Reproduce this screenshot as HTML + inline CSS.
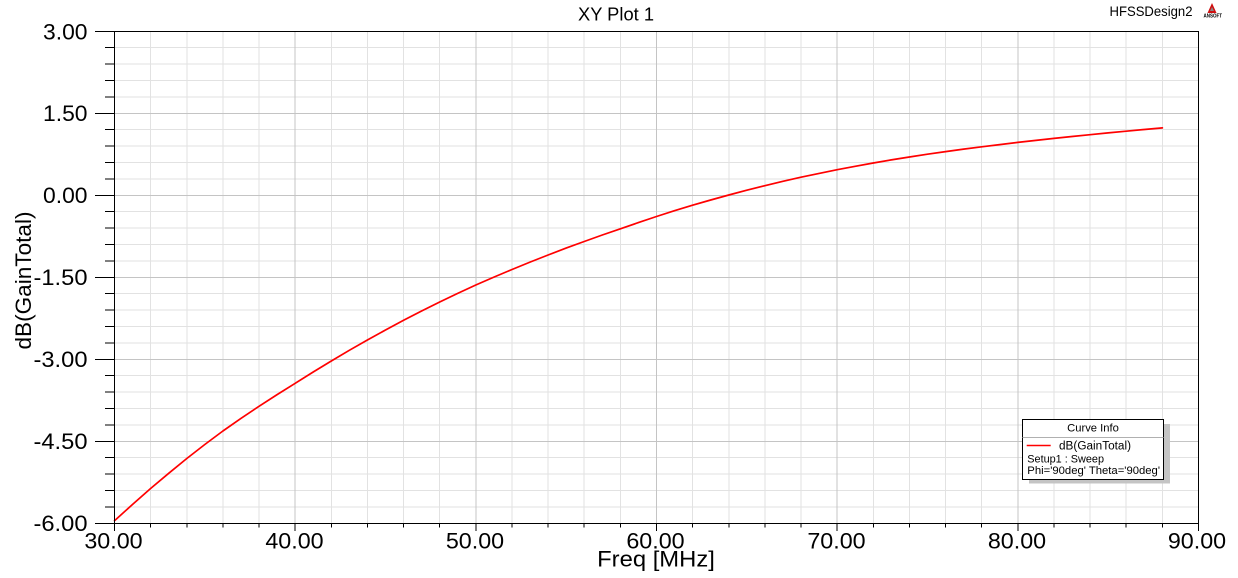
<!DOCTYPE html>
<html><head><meta charset="utf-8"><style>
html,body{margin:0;padding:0;background:#fff;}
svg{display:block;}
text{font-family:"Liberation Sans",Arial,sans-serif;fill:#000;}
</style></head><body>
<svg width="1238" height="578" viewBox="0 0 1238 578" xmlns="http://www.w3.org/2000/svg">
<rect width="1238" height="578" fill="#fff"/>
<!-- minor grid -->
<g stroke="#e2e2e2" stroke-width="1" shape-rendering="crispEdges">
<path d="M150.6 31.3V523.3M186.8 31.3V523.3M222.9 31.3V523.3M259 31.3V523.3M331.3 31.3V523.3M367.4 31.3V523.3M403.6 31.3V523.3M439.7 31.3V523.3M512 31.3V523.3M548.1 31.3V523.3M584.2 31.3V523.3M620.4 31.3V523.3M692.6 31.3V523.3M728.8 31.3V523.3M764.9 31.3V523.3M801 31.3V523.3M873.3 31.3V523.3M909.4 31.3V523.3M945.6 31.3V523.3M981.7 31.3V523.3M1054 31.3V523.3M1090.1 31.3V523.3M1126.2 31.3V523.3M1162.4 31.3V523.3"/>
<path d="M114.5 47.7H1198.5M114.5 64.1H1198.5M114.5 80.5H1198.5M114.5 96.9H1198.5M114.5 129.7H1198.5M114.5 146.1H1198.5M114.5 162.5H1198.5M114.5 178.9H1198.5M114.5 211.7H1198.5M114.5 228.1H1198.5M114.5 244.5H1198.5M114.5 260.9H1198.5M114.5 293.7H1198.5M114.5 310.1H1198.5M114.5 326.5H1198.5M114.5 342.9H1198.5M114.5 375.7H1198.5M114.5 392.1H1198.5M114.5 408.5H1198.5M114.5 424.9H1198.5M114.5 457.7H1198.5M114.5 474.1H1198.5M114.5 490.5H1198.5M114.5 506.9H1198.5"/>
</g>
<!-- major grid -->
<g stroke="#c4c4c4" stroke-width="1" shape-rendering="crispEdges">
<path d="M295.2 31.3V523.3M475.8 31.3V523.3M656.5 31.3V523.3M837.2 31.3V523.3M1017.8 31.3V523.3"/>
<path d="M114.5 113.3H1198.5M114.5 195.3H1198.5M114.5 277.3H1198.5M114.5 359.3H1198.5M114.5 441.3H1198.5"/>
</g>
<!-- curve -->
<polyline fill="none" stroke="#ff0000" stroke-width="1.7" stroke-linejoin="round" stroke-linecap="round"
points="114.5,520.7 132.6,504.4 150.6,488.5 168.7,473.3 186.8,458.5 204.8,444.5 222.9,431 240.9,418.4 259,406.3 277.1,394.6 295.2,383.3 313.2,372 331.3,361 349.3,350.3 367.4,340 385.5,330 403.6,320.3 421.6,311 439.7,302 457.7,293.4 475.8,285 493.9,277.1 512,269.5 530,262.1 548.1,255 566.1,248.1 584.2,241.5 602.3,235 620.4,228.8 638.4,222.6 656.5,216.5 674.5,210.7 692.6,205.2 710.7,200 728.8,195 746.8,190.2 764.9,185.7 782.9,181.3 801,177.2 819.1,173.4 837.2,169.7 855.2,166.3 873.3,163 891.3,159.9 909.4,157 927.5,154.2 945.6,151.6 963.6,149.1 981.7,146.8 999.7,144.6 1017.8,142.4 1035.9,140.4 1054,138.4 1072,136.5 1090.1,134.7 1108.1,132.9 1126.2,131.2 1144.3,129.5 1162.4,127.9"/>
<!-- frame -->
<rect x="114.5" y="31.5" width="1084" height="492" fill="none" stroke="#000" stroke-width="1" shape-rendering="crispEdges"/>
<!-- y ticks -->
<g stroke="#000" stroke-width="1" shape-rendering="crispEdges">
<path d="M95 31.5H114.5M95 113.3H114.5M95 195.3H114.5M95 277.3H114.5M95 359.3H114.5M95 441.3H114.5M95 523.5H114.5"/>
<path d="M105 47.7H114.5M105 64.1H114.5M105 80.5H114.5M105 96.9H114.5M105 129.7H114.5M105 146.1H114.5M105 162.5H114.5M105 178.9H114.5M105 211.7H114.5M105 228.1H114.5M105 244.5H114.5M105 260.9H114.5M105 293.7H114.5M105 310.1H114.5M105 326.5H114.5M105 342.9H114.5M105 375.7H114.5M105 392.1H114.5M105 408.5H114.5M105 424.9H114.5M105 457.7H114.5M105 474.1H114.5M105 490.5H114.5M105 506.9H114.5"/>
<!-- x ticks -->
<path d="M114.5 523.5V531M295.2 523.5V531M475.8 523.5V531M656.5 523.5V531M837.2 523.5V531M1017.8 523.5V531M1198.5 523.5V531"/>
<path d="M150.6 523.5V527.5M186.8 523.5V527.5M222.9 523.5V527.5M259 523.5V527.5M331.3 523.5V527.5M367.4 523.5V527.5M403.6 523.5V527.5M439.7 523.5V527.5M512 523.5V527.5M548.1 523.5V527.5M584.2 523.5V527.5M620.4 523.5V527.5M692.6 523.5V527.5M728.8 523.5V527.5M764.9 523.5V527.5M801 523.5V527.5M873.3 523.5V527.5M909.4 523.5V527.5M945.6 523.5V527.5M981.7 523.5V527.5M1054 523.5V527.5M1090.1 523.5V527.5M1126.2 523.5V527.5M1162.4 523.5V527.5"/>
</g>
<!-- y tick labels -->
<g font-size="22.5" text-anchor="end">
<text x="87.5" y="39.4" textLength="44.5" lengthAdjust="spacingAndGlyphs">3.00</text>
<text x="87.5" y="121.2" textLength="44.5" lengthAdjust="spacingAndGlyphs">1.50</text>
<text x="87.5" y="203.2" textLength="44.5" lengthAdjust="spacingAndGlyphs">0.00</text>
<text x="87.5" y="285.2" textLength="54" lengthAdjust="spacingAndGlyphs">-1.50</text>
<text x="87.5" y="367.2" textLength="54" lengthAdjust="spacingAndGlyphs">-3.00</text>
<text x="87.5" y="449.2" textLength="54" lengthAdjust="spacingAndGlyphs">-4.50</text>
<text x="87.5" y="531.2" textLength="54" lengthAdjust="spacingAndGlyphs">-6.00</text>
</g>
<!-- x tick labels -->
<g font-size="22.5" text-anchor="middle">
<text x="113.5" y="548.5" textLength="58.3" lengthAdjust="spacingAndGlyphs">30.00</text>
<text x="294.5" y="548.5" textLength="58.3" lengthAdjust="spacingAndGlyphs">40.00</text>
<text x="475" y="548.5" textLength="58.3" lengthAdjust="spacingAndGlyphs">50.00</text>
<text x="655.5" y="548.5" textLength="58.3" lengthAdjust="spacingAndGlyphs">60.00</text>
<text x="836.5" y="548.5" textLength="58.3" lengthAdjust="spacingAndGlyphs">70.00</text>
<text x="1017" y="548.5" textLength="58.3" lengthAdjust="spacingAndGlyphs">80.00</text>
<text x="1197" y="548.5" textLength="58.3" lengthAdjust="spacingAndGlyphs">90.00</text>
</g>
<!-- axis titles -->
<text x="656" y="566.7" font-size="22.5" text-anchor="middle" textLength="117.7" lengthAdjust="spacingAndGlyphs">Freq [MHz]</text>
<text transform="translate(31,280.5) rotate(-90)" font-size="22" text-anchor="middle" textLength="138" lengthAdjust="spacingAndGlyphs">dB(GainTotal)</text>
<!-- title -->
<text x="616" y="20.7" font-size="18" text-anchor="middle" textLength="76" lengthAdjust="spacingAndGlyphs">XY Plot 1</text>
<text x="1109.5" y="16" font-size="13.5" textLength="83" lengthAdjust="spacingAndGlyphs">HFSSDesign2</text>
<!-- ansoft logo -->
<g>
<polygon points="1212,3 1216.5,13 1207.5,13" fill="#d01010"/>
<polygon points="1212,7 1214,11 1210,11" fill="#888"/>
<text x="1203.5" y="17.5" font-size="5" font-weight="bold" textLength="18.5" lengthAdjust="spacingAndGlyphs">ANSOFT</text>
</g>
<!-- legend -->
<rect x="1029" y="424" width="141" height="59.5" fill="#c4c4c4"/>
<rect x="1022.5" y="419.5" width="141" height="60" fill="#fff" stroke="#000" stroke-width="1" shape-rendering="crispEdges"/>
<line x1="1022.5" y1="437.5" x2="1163.5" y2="437.5" stroke="#b0b0b0" stroke-width="1" shape-rendering="crispEdges"/>
<text x="1093" y="431.7" font-size="11.2" text-anchor="middle" textLength="51.7" lengthAdjust="spacingAndGlyphs">Curve Info</text>
<line x1="1026.7" y1="445.5" x2="1050.7" y2="445.5" stroke="#ff0000" stroke-width="1.6"/>
<text x="1059" y="449.3" font-size="11.5" textLength="72" lengthAdjust="spacingAndGlyphs">dB(GainTotal)</text>
<text x="1027.3" y="462.3" font-size="11.2" textLength="76.7" lengthAdjust="spacingAndGlyphs">Setup1 : Sweep</text>
<text x="1027.3" y="474" font-size="11.2" textLength="132.7" lengthAdjust="spacingAndGlyphs">Phi='90deg' Theta='90deg'</text>
</svg>
</body></html>
